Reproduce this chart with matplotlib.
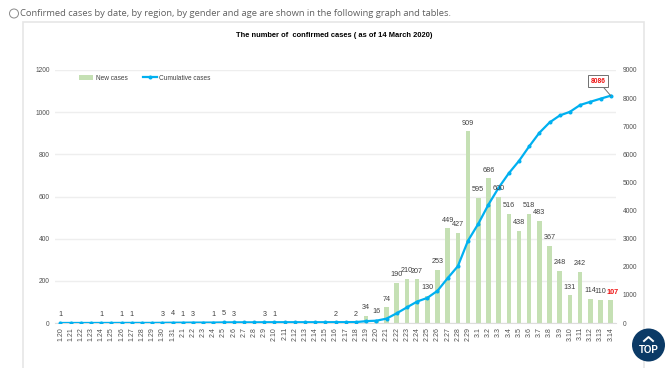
import matplotlib
matplotlib.use('Agg')
import matplotlib.pyplot as plt
from matplotlib.patches import Circle, Rectangle

W, H = 665, 368

dates = ['1.20', '1.21', '1.22', '1.23', '1.24', '1.25', '1.26', '1.27', '1.28', '1.29', '1.30', '1.31',
         '2.1', '2.2', '2.3', '2.4', '2.5', '2.6', '2.7', '2.8', '2.9', '2.10', '2.11', '2.12', '2.13', '2.14',
         '2.15', '2.16', '2.17', '2.18', '2.19', '2.20', '2.21', '2.22', '2.23', '2.24', '2.25', '2.26', '2.27',
         '2.28', '2.29', '3.1', '3.2', '3.3', '3.4', '3.5', '3.6', '3.7', '3.8', '3.9', '3.10', '3.11', '3.12',
         '3.13', '3.14']
new_cases = [1, 0, 0, 0, 1, 0, 1, 1, 0, 0, 3, 4,
             1, 3, 0, 1, 5, 3, 0, 0, 3, 1, 0, 0, 0, 0,
             0, 2, 0, 2, 34, 16, 74, 190, 210, 207, 130, 253, 449,
             427, 909, 595, 686, 600, 516, 438, 518, 483, 367, 248, 131, 242, 114,
             110, 107]
cumulative = [1, 1, 1, 1, 2, 2, 3, 4, 4, 4, 7, 11,
              12, 15, 15, 16, 21, 24, 24, 24, 27, 28, 28, 28, 28, 28,
              28, 30, 30, 32, 66, 82, 156, 346, 556, 763, 893, 1146, 1595,
              2022, 2931, 3526, 4212, 4812, 5328, 5766, 6284, 6767, 7134, 7382, 7513, 7755, 7869,
              7979, 8086]
left_ticks = [0, 200, 400, 600, 800, 1000, 1200]
right_ticks = [0, 1000, 2000, 3000, 4000, 5000, 6000, 7000, 8000, 9000]

plt.rcParams['font.family'] = ['Liberation Sans', 'DejaVu Sans']

fig = plt.figure(figsize=(W / 100, H / 100), dpi=100)

# page layer in pixel coordinates
page = fig.add_axes([0, 0, 1, 1])
page.set_xlim(0, W)
page.set_ylim(H, 0)
page.axis('off')
page.add_patch(Rectangle((23, 22), 621, 360, fc='white', ec='#e6e6e6', lw=1.2))
page.add_patch(Circle((14, 13.5), 4.5, fc='white', ec='#8a8a8a', lw=0.7))
page.text(20.5, 13.5, 'Confirmed cases by date, by region, by gender and age are shown in the following graph and tables.',
          family='Open Sans', fontsize=6.75, color='#606060', va='center', ha='left')
page.text(334, 35.5, 'The number of  confirmed cases ( as of 14 March 2020)', fontsize=5.4, weight='bold',
          color='black', ha='center', va='center')
page.add_patch(Circle((648.5, 345), 16.5, fc='#0b3a66', ec='none', zorder=5))
page.plot([644, 648.5, 653], [341, 337, 341], color='white', lw=1.4, zorder=6)
page.text(648.5, 350, 'TOP', fontsize=7, weight='bold', color='white',
          ha='center', va='center', zorder=6)

# chart axes
ax = fig.add_axes([55.4 / W, 1 - 323 / H, (615.8 - 55.4) / W, (323 - 70) / H])
ax.patch.set_alpha(0)
x = list(range(len(dates)))
ax.bar(x, new_cases, width=0.45, color='#c5e0b4', label='New cases')
ax.set_xlim(-0.5, 54.5)
ax.set_ylim(0, 1200)
ax.set_yticks(left_ticks)
ax.set_xticks(x)
ax.set_xticklabels(dates, rotation=90, fontsize=5, color='#505050')
ax.tick_params(axis='y', length=0, labelsize=4.8, labelcolor='#505050', pad=4)
ax.tick_params(axis='x', length=0, pad=3)
ax.grid(axis='y', color='#eeeeee', lw=1)
ax.set_axisbelow(True)
for s in ['top', 'right', 'left']:
    ax.spines[s].set_visible(False)
ax.spines['bottom'].set_color('#dddddd')

ax2 = ax.twinx()
ax2.plot(x, cumulative, color='#00b0f0', lw=1.6, marker='o', ms=1.9, label='Cumulative cases')
ax2.set_ylim(0, 9000)
ax2.set_yticks(right_ticks)
ax2.tick_params(axis='y', length=0, labelsize=4.8, labelcolor='#505050', pad=5)
for s in ax2.spines.values():
    s.set_visible(False)

# value labels, zero days stay empty
for i, v in enumerate(new_cases):
    if v > 0:
        last = i == len(new_cases) - 1
        ax2.annotate(str(v), (i, v * 7.5), xytext=(1 if last else 0, 6), textcoords='offset points',
                     ha='center', va='center', fontsize=5.2, color='#ee1111' if last else '#404040',
                     weight='bold' if last else 'normal')

ax2.annotate(str(cumulative[-1]), (x[-1], cumulative[-1]), xytext=(-9, 10.5), textcoords='offset points',
             ha='center', va='center', fontsize=4.8, color='#ee1111', weight='bold',
             bbox=dict(boxstyle='square,pad=0.4', fc='white', ec='#707070', lw=0.7),
             arrowprops=dict(arrowstyle='-', color='#707070', lw=0.7, shrinkA=0, shrinkB=0))

h1, l1 = ax.get_legend_handles_labels()
h2, l2 = ax2.get_legend_handles_labels()
ax2.legend(h1 + h2, l1 + l2, ncol=2, frameon=False, fontsize=4.7, labelcolor='#404040',
           loc='upper left', bbox_to_anchor=(0.037, 0.995), handlelength=2.1, handletextpad=0.4,
           columnspacing=2.4, borderaxespad=0.1)

fig.savefig('out.png', dpi=100)
